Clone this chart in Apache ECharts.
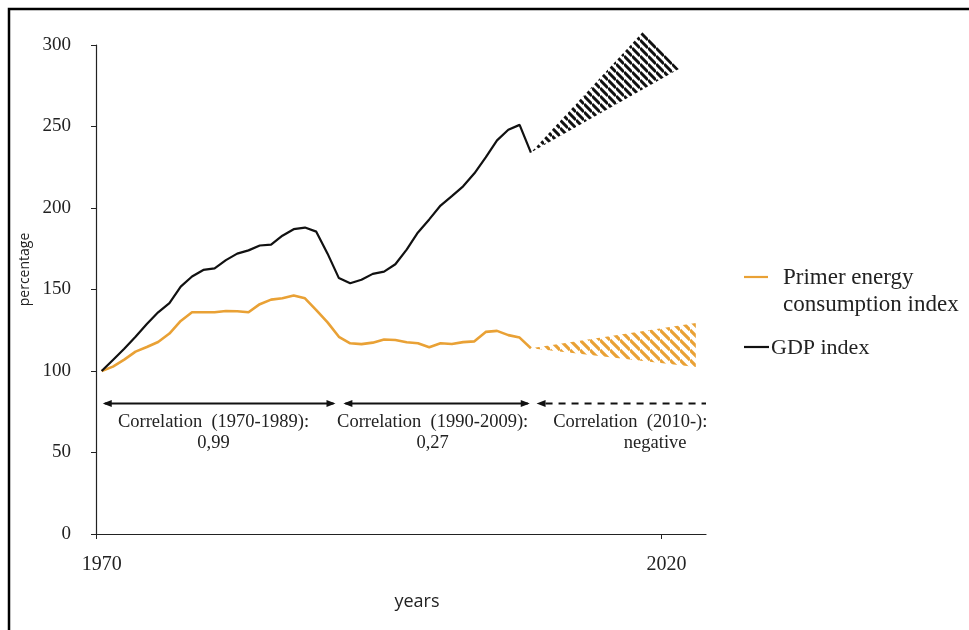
<!DOCTYPE html>
<html><head><meta charset="utf-8">
<script src="https://cdn.jsdelivr.net/npm/echarts@6/dist/echarts.min.js"></script>
<style>html,body{margin:0;padding:0;background:#fff}#c{width:969px;height:630px}</style>
</head><body><div id="c"></div>
<script>
// ---------- data ----------
const years = [1970,1971,1972,1973,1974,1975,1976,1977,1978,1979,
               1980,1981,1982,1983,1984,1985,1986,1987,1988,1989,
               1990,1991,1992,1993,1994,1995,1996,1997,1998,1999,
               2000,2001,2002,2003,2004,2005,2006,2007,2008];
const gdpIndex = [100,106.8,113.6,121,128.8,136,141.7,151.8,158,162,
                  163,168,172,174,177,177.5,183,187,188,185.5,
                  172,157,153.8,156,159.6,161,165.5,174.5,185,193,
                  201.5,207.3,213.3,221.3,231,241.5,248,251,234];
const energyIndex = [100,102.7,107,111.9,114.7,117.8,123,130.7,136,136,
                     136,136.8,136.7,136,141,143.8,144.6,146.3,144.6,137.4,
                     129.8,121,117,116.5,117.4,119.3,119,117.6,117,114.6,
                     117,116.6,117.7,118.2,124,124.6,122,120.5,114];
// forecast wedges [year, value]
const gdpForecast = [[2008,234],[2017.9,308],[2021.1,285.3]];
const energyForecast = [[2008,114],[2022.6,129.4],[2022.6,102.5]];
// correlation period arrows [fromYear, toYear, value]
const periodArrows = [[1970.1,1990.7,80],[1991.4,2007.9,80],[2008.5,2023.5,80]];
// annotation texts [year, value]
const notePos = [[1979.9,68.7],[1979.9,56.0],[1999.3,68.7],[1999.3,56.0],[2016.8,68.7],[2019,56.0]];
const noteText = ['Correlation  (1970-1989):','0,99','Correlation  (1990-2009):','0,27','Correlation  (2010-):','negative'];
const xTickLabels = [1970, 2020];
const yTicks = [0,50,100,150,200,250,300];

// ---------- helpers ----------
function stripes(color, s, lw){
  const c = document.createElement('canvas'); c.width = s; c.height = s;
  const ctx = c.getContext('2d'); ctx.strokeStyle = color; ctx.lineWidth = lw;
  ctx.beginPath();
  for (const k of [-1,0,1]) { ctx.moveTo(0, k*s); ctx.lineTo(s, s + k*s); }
  ctx.stroke();
  return c;
}
const ORANGE = '#E9A135';
const blackPat = {image: stripes('#111', 8, 3), repeat: 'repeat'};
const orangePat = {image: stripes(ORANGE, 10, 3.2), repeat: 'repeat'};
const serif = '"Liberation Serif","Times New Roman",serif';

function wedgeSeries(poly, pat){
  return {
    type:'custom', silent:true, clip:false, z:1,
    data:[poly[0]],
    renderItem:(params, api)=>({
      type:'polygon',
      shape:{points: poly.map(p => api.coord(p))},
      style:{fill: pat}
    })
  };
}

const chart = echarts.init(document.getElementById('c'), null, {renderer:'canvas'});
chart.setOption({
  animation:false,
  backgroundColor:'#fff',
  grid:{left:96, right:263, top:45, bottom:96, containLabel:false},
  xAxis:{
    type:'value', min:1969.5, max:2023.5,
    name:'years', nameLocation:'middle', nameGap:59,
    nameTextStyle:{fontFamily:'"Open Sans",sans-serif', fontSize:18, color:'#222', padding:[0,0,0,32]},
    axisLine:{show:true, lineStyle:{color:'#222', width:1.2}},
    axisTick:{show:true, customValues:[1969.5, 2019.5], length:5, lineStyle:{color:'#222'}},
    axisLabel:{customValues:xTickLabels, formatter:v=>String(v), margin:21,
               fontFamily:serif, fontSize:20, color:'#222'},
    splitLine:{show:false}
  },
  yAxis:{
    type:'value', min:0, max:300, interval:50,
    name:'percentage', nameLocation:'middle', nameGap:62,
    nameTextStyle:{fontFamily:'"Open Sans",sans-serif', fontSize:14, color:'#222', padding:[0,0,0,40]},
    axisLine:{show:true, lineStyle:{color:'#222', width:1.2}},
    axisTick:{show:true, inside:false, length:5, lineStyle:{color:'#222'}},
    axisLabel:{fontFamily:serif, fontSize:19, color:'#222', margin:25},
    splitLine:{show:false}
  },
  series:[
    wedgeSeries(gdpForecast, blackPat),
    wedgeSeries(energyForecast, orangePat),
    {name:'Primer energy consumption index', type:'line', data:years.map((y,i)=>[y, energyIndex[i]]),
     showSymbol:false, symbol:'none', lineStyle:{color:ORANGE, width:2.6}, z:3},
    {name:'GDP index', type:'line', data:years.map((y,i)=>[y, gdpIndex[i]]),
     showSymbol:false, symbol:'none', lineStyle:{color:'#111', width:2.2}, z:4},
    {type:'custom', silent:true, clip:false, z:5, data:periodArrows,
     renderItem:(params, api)=>{
       const a = api.coord([api.value(0), api.value(2)]);
       const b = api.coord([api.value(1), api.value(2)]);
       const dashed = params.dataIndex === 2;
       const L = 9, W = 3.5;
       const kids = [{type:'line', shape:{x1:a[0]+ (dashed?L:2), y1:a[1], x2:b[0]-(dashed?0:2), y2:b[1]},
                      style:{stroke:'#111', lineWidth:2, lineDash: dashed ? [7,6] : null}}];
       kids.push({type:'polygon', shape:{points:[[a[0],a[1]],[a[0]+L,a[1]-W],[a[0]+L,a[1]+W]]}, style:{fill:'#111'}});
       if (!dashed) kids.push({type:'polygon', shape:{points:[[b[0],b[1]],[b[0]-L,b[1]-W],[b[0]-L,b[1]+W]]}, style:{fill:'#111'}});
       return {type:'group', children:kids};
     }},
    {type:'custom', silent:true, clip:false, z:5, data:notePos,
     renderItem:(params, api)=>{
       const p = api.coord([api.value(0), api.value(1)]);
       return {type:'text', x:p[0], y:p[1],
               style:{text:noteText[params.dataIndex], font:'18.5px '+serif, fill:'#222',
                      align:'center', verticalAlign:'middle'}};
     }}
  ],
  graphic:[
    {type:'polyline', silent:true, shape:{points:[[9,640],[9,9],[980,9]]}, style:{stroke:'#000', lineWidth:2.5, fill:null}},
    {type:'line', silent:true, shape:{x1:744, y1:277, x2:768, y2:277}, style:{stroke:ORANGE, lineWidth:2.2}},
    {type:'text', silent:true, x:783, y:278, style:{text:'Primer energy', font:'23px '+serif, fill:'#222', verticalAlign:'middle'}},
    {type:'text', silent:true, x:783, y:305, style:{text:'consumption index', font:'23px '+serif, fill:'#222', verticalAlign:'middle'}},
    {type:'line', silent:true, shape:{x1:744, y1:347, x2:769, y2:347}, style:{stroke:'#111', lineWidth:2.2}},
    {type:'text', silent:true, x:771, y:348, style:{text:'GDP index', font:'22px '+serif, fill:'#222', verticalAlign:'middle'}}
  ]
});
</script></body></html>
